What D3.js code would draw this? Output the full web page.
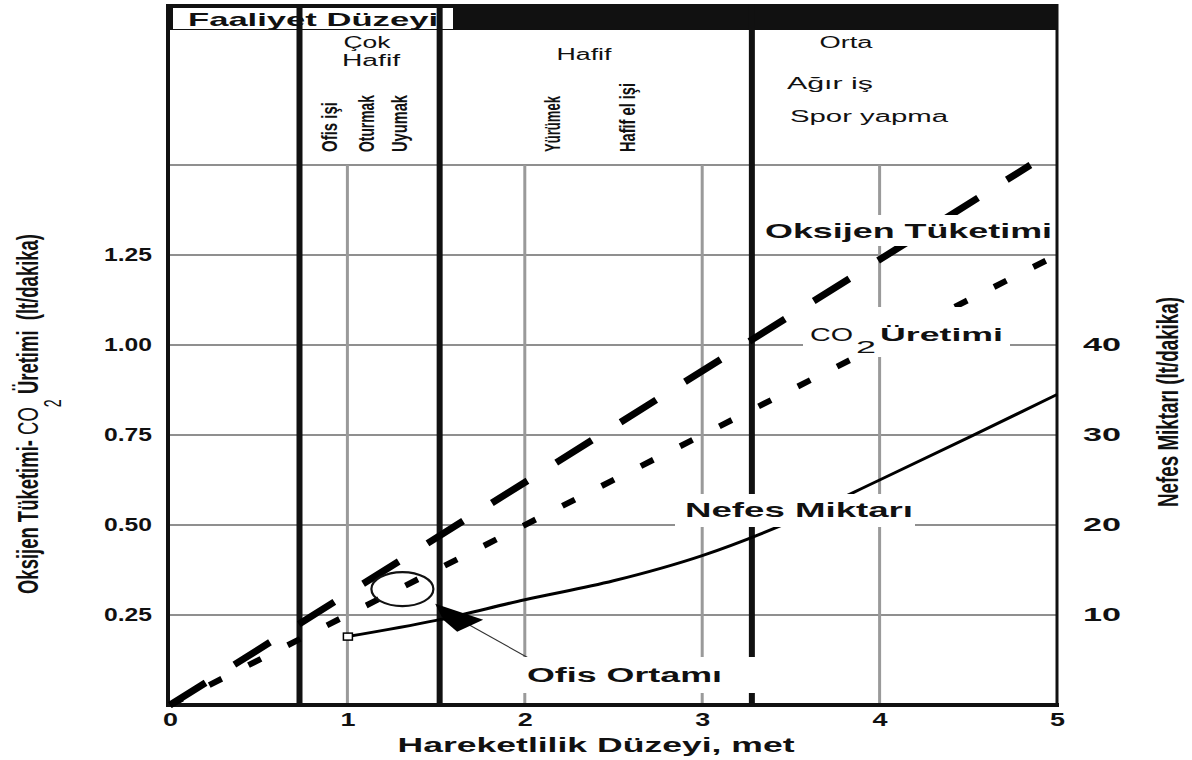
<!DOCTYPE html>
<html>
<head>
<meta charset="utf-8">
<script src="https://cdn.jsdelivr.net/npm/d3@7"></script>
<style>
  body { margin: 0; background: #fff; }
  text { font-family: "Liberation Sans", Arial, sans-serif; fill: #111; }
</style>
</head>
<body>
<div id="chart-area"></div>
<script>
// data
const metTicks = [0, 1, 2, 3, 4, 5];
const leftTicks = [0.25, 0.5, 0.75, 1.0, 1.25];
const rightTicks = [10, 20, 30, 40];
const levelBounds = [0.73, 1.52, 3.28];

const o2Met = [0, 4.85];
const o2Values = [0, 1.5];
const co2Met = [0, 5];
const co2Values = [0, 1.25];
const breathMet = [1, 1.5, 2, 2.5, 3, 3.5, 4, 4.5, 5];
const breathValues = [7.6, 9.4, 11.7, 13.8, 16.6, 20.4, 25.0, 29.7, 34.5];
const officePoint = [1.63, 9.7];   // met, lt/dakika
const ringPoint = [1.31, 0.322];   // met, lt/dakika

const levelNames = ["Çok", "Hafif", "Hafif", "Orta"];
const activities = ["Ofis işi", "Oturmak", "Uyumak", "Yürümek", "Hafif el işi"];
const heavyActivities = ["Ağır iş", "Spor yapma"];

var W = 1192, H = 760;
var svg = d3.select("#chart-area").append("svg").attr("width", W).attr("height", H);
svg.append("rect").attr("width", W).attr("height", H).attr("fill", "#fff");

var x = d3.scaleLinear().domain([0, 5]).range([170, 1057]);
var y = d3.scaleLinear().domain([0, 1.5]).range([705, 165]);
var yR = d3.scaleLinear().domain([0, 60]).range([705, 165]);

// plain text, stretched wide like the scanned original
function txt(str, px, py, size, weight, len, anchor) {
  var t = svg.append("text").attr("x", px).attr("y", py)
    .attr("font-size", size).attr("font-weight", weight || "normal")
    .attr("text-anchor", anchor || "start").text(str);
  if (len) t.attr("textLength", len).attr("lengthAdjust", "spacingAndGlyphs");
  return t;
}
// vertical text, reads bottom to top
function vtxt(str, px, py, size, weight, len, anchor, sx) {
  var t = svg.append("text")
    .attr("transform", "translate(" + px + "," + py + ") scale(" + sx + ",1) rotate(-90)")
    .attr("font-size", size).attr("font-weight", weight || "normal")
    .attr("text-anchor", anchor || "start").text(str);
  if (len) t.attr("textLength", len).attr("lengthAdjust", "spacingAndGlyphs");
  return t;
}

// header band
svg.append("rect").attr("x", 168).attr("y", 4).attr("width", 889).attr("height", 26).attr("fill", "#111");
svg.append("rect").attr("x", 173).attr("y", 8).attr("width", 280).attr("height", 21).attr("fill", "#fff");
txt("Faaliyet Düzeyi", 188, 26, 19, "bold", 250);

// grid
svg.selectAll(".hgrid").data(leftTicks.concat([1.5])).enter().append("line")
  .attr("x1", 168).attr("x2", 1057)
  .attr("y1", d => y(d)).attr("y2", d => y(d))
  .attr("stroke", "#6a6a6a").attr("stroke-width", 1.6);
svg.selectAll(".vgrid").data(metTicks.slice(1, 5)).enter().append("line")
  .attr("x1", d => x(d)).attr("x2", d => x(d))
  .attr("y1", y(1.5)).attr("y2", 705)
  .attr("stroke", "#9a9a9a").attr("stroke-width", 3);
svg.selectAll(".bound").data(levelBounds).enter().append("line")
  .attr("x1", d => x(d)).attr("x2", d => x(d))
  .attr("y1", 4).attr("y2", 705)
  .attr("stroke", "#111").attr("stroke-width", 6);

// frame
svg.append("line").attr("x1", 168).attr("x2", 168).attr("y1", 4).attr("y2", 707).attr("stroke", "#111").attr("stroke-width", 4);
svg.append("line").attr("x1", 1057).attr("x2", 1057).attr("y1", 4).attr("y2", 707).attr("stroke", "#111").attr("stroke-width", 3);
svg.append("line").attr("x1", 166).attr("x2", 1059).attr("y1", 705).attr("y2", 705).attr("stroke", "#111").attr("stroke-width", 4);

// series
var line = d3.line().x(d => x(d[0])).y(d => y(d[1]));
svg.append("path").datum(o2Met.map((m, i) => [m, o2Values[i]]))
  .attr("d", line).attr("fill", "none").attr("stroke", "#000")
  .attr("stroke-width", 7).attr("stroke-dasharray", "42,34");
svg.append("path").datum(co2Met.map((m, i) => [m, co2Values[i]]))
  .attr("d", line).attr("fill", "none").attr("stroke", "#000")
  .attr("stroke-width", 6).attr("stroke-dasharray", "14,30");
var breathLine = d3.line().curve(d3.curveMonotoneX).x(d => x(d[0])).y(d => yR(d[1]));
svg.append("path").datum(breathMet.map((m, i) => [m, breathValues[i]]))
  .attr("d", breathLine).attr("fill", "none").attr("stroke", "#000").attr("stroke-width", 3);

// markers
var ox = x(officePoint[0]), oy = yR(officePoint[1]);
svg.append("line").attr("x1", ox + 8).attr("y1", oy + 6).attr("x2", 532).attr("y2", 660)
  .attr("stroke", "#333").attr("stroke-width", 1.2);
svg.append("path")
  .attr("d", "M" + (ox - 24) + "," + (oy - 14) + "L" + (ox + 24) + "," + (oy + 2) +
             "L" + (ox - 2) + "," + (oy + 14) + "L" + (ox - 16) + "," + (oy + 2) + "Z")
  .attr("fill", "#000");
svg.append("ellipse").attr("cx", x(ringPoint[0])).attr("cy", y(ringPoint[1]))
  .attr("rx", 31).attr("ry", 17).attr("fill", "none").attr("stroke", "#111").attr("stroke-width", 2.2);
svg.append("rect").attr("x", x(breathMet[0]) - 4).attr("y", yR(breathValues[0]) - 3.5)
  .attr("width", 9).attr("height", 7).attr("fill", "#fff").attr("stroke", "#000").attr("stroke-width", 1.5);

// series labels with white backing
function backing(x0, y0, w, h) {
  svg.append("rect").attr("x", x0).attr("y", y0).attr("width", w).attr("height", h).attr("fill", "#fff");
}
backing(762, 215, 293, 31);
txt("Oksijen Tüketimi", 765, 238, 21, "bold", 287);
backing(803, 307, 207, 50);
txt("CO", 810, 341, 19, "normal", 43);
txt("2", 856, 353, 17, "normal", 20);
txt("Üretimi", 880, 341, 19, "bold", 123);
backing(675, 494, 240, 33);
txt("Nefes Miktarı", 685, 517, 21, "bold", 228);
backing(520, 657, 240, 36);
txt("Ofis Ortamı", 527, 682, 20, "bold", 195);

// activity header
txt(levelNames[0], 367, 48, 16, "normal", 47, "middle");
txt(levelNames[1], 371, 66, 16, "normal", 58, "middle");
txt(levelNames[2], 584, 60, 16, "normal", 55, "middle");
txt(levelNames[3], 846, 48, 16, "normal", 53, "middle");
txt(heavyActivities[0], 787, 89, 16, "normal", 86);
txt(heavyActivities[1], 790, 122, 16, "normal", 158);
var actX = [337, 374, 407, 560, 635];
var actLen = [50, 57, 57, 56, 69];
activities.forEach((a, i) => vtxt(a, actX[i], 152, 13, "bold", actLen[i], "start", 1.65));

// axes
var gl = svg.append("g").attr("transform", "translate(170,0)")
  .call(d3.axisLeft(y).tickValues(leftTicks).tickFormat(d3.format(".2f")).tickSize(0).tickPadding(18));
var gr = svg.append("g").attr("transform", "translate(1057,0)")
  .call(d3.axisRight(yR).tickValues(rightTicks).tickSize(0).tickPadding(26));
var gb = svg.append("g").attr("transform", "translate(0,705)")
  .call(d3.axisBottom(x).tickValues(metTicks).tickFormat(d3.format("d")).tickSize(0).tickPadding(8));
[gl, gr, gb].forEach(g => {
  g.select(".domain").remove();
  g.attr("font-family", null).attr("font-size", null);
  g.selectAll("text").attr("font-size", 18).attr("font-weight", "bold").attr("fill", "#111")
    .attr("lengthAdjust", "spacingAndGlyphs");
});
gl.selectAll("text").attr("textLength", 48);
gr.selectAll("text").attr("textLength", 38);
gb.selectAll("text").attr("font-size", 19).attr("textLength", 15);

// axis titles
txt("Hareketlilik Düzeyi, met", 596, 752, 20, "bold", 397, "middle");
var lt = vtxt("", 38, 414, 18, "bold", 360, "middle", 1.65);
lt.append("tspan").text("Oksijen Tüketimi- ");
lt.append("tspan").attr("font-weight", "normal").text("CO");
lt.append("tspan").attr("font-weight", "normal").attr("font-size", 14).attr("dy", 14).text("2");
lt.append("tspan").attr("dy", -14).text(" Üretimi\u00a0\u00a0(lt/dakika)");
vtxt("Nefes Miktarı (lt/dakika)", 1178, 402, 18, "bold", 210, "middle", 1.65);
</script>
</body>
</html>
